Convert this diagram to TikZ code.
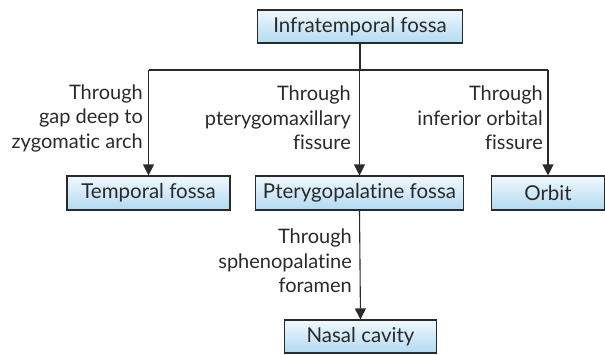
\documentclass[tikz,border=0pt]{standalone}
\usepackage{fontspec}
\setmainfont{Lato}[Ligatures=NoCommon]
\usetikzlibrary{arrows.meta}
\definecolor{boxtop}{HTML}{F0F8FE}
\definecolor{boxbot}{HTML}{B2DAF1}
\definecolor{ink}{HTML}{2A2A2A}
\begin{document}
\begin{tikzpicture}[x=1pt,y=-1pt,
  box/.style={draw=ink, line width=1.1pt, top color=boxtop, bottom color=boxbot,
    font=\fontsize{20.5}{24}\selectfont, text=ink, inner sep=0pt, minimum height=34pt},
  lbl/.style={align=right, anchor=east, font=\fontsize{20}{24.5}\selectfont,
    text=ink, inner sep=0pt},
  conn/.style={draw=ink, line width=1.1pt},
  arr/.style={conn, -{Triangle[width=11pt,length=11pt]}}]
\useasboundingbox (0,0) rectangle (605,354);
\node[box, minimum width=205pt, minimum height=33pt] (top) at (360,26.5) {Infratemporal fossa};
\node[box, minimum width=163pt] (tem) at (148.5,193) {Temporal fossa};
\node[box, minimum width=208pt] (pte) at (359.5,193) {Pterygopalatine fossa};
\node[box, minimum width=113pt] (orb) at (548,193) {Orbit};
\node[box, minimum width=152pt, minimum height=33pt] (nas) at (360.5,336.5) {Nasal cavity};
\coordinate (bar) at (0,70);
\draw[conn] (tem.north |- bar) -- (orb.north |- bar);
\draw[conn] (top.south) -- (top.south |- bar);
\draw[arr] (tem.north |- bar) -- (tem.north);
\draw[arr] (pte.north |- bar) -- (pte.north);
\draw[arr] (orb.north |- bar) -- (orb.north);
\draw[arr] (pte.south) -- (nas.north);
\node[lbl] (l1) at (143,118) {Through\\gap deep to\\zygomatic arch};
\node[lbl] (l2) at (351,118) {Through\\pterygomaxillary\\fissure};
\node[lbl] (l3) at (543,118) {Through\\inferior orbital\\fissure};
\node[lbl] (l4) at (352,261) {Through\\sphenopalatine\\foramen};
\end{tikzpicture}
\end{document}
